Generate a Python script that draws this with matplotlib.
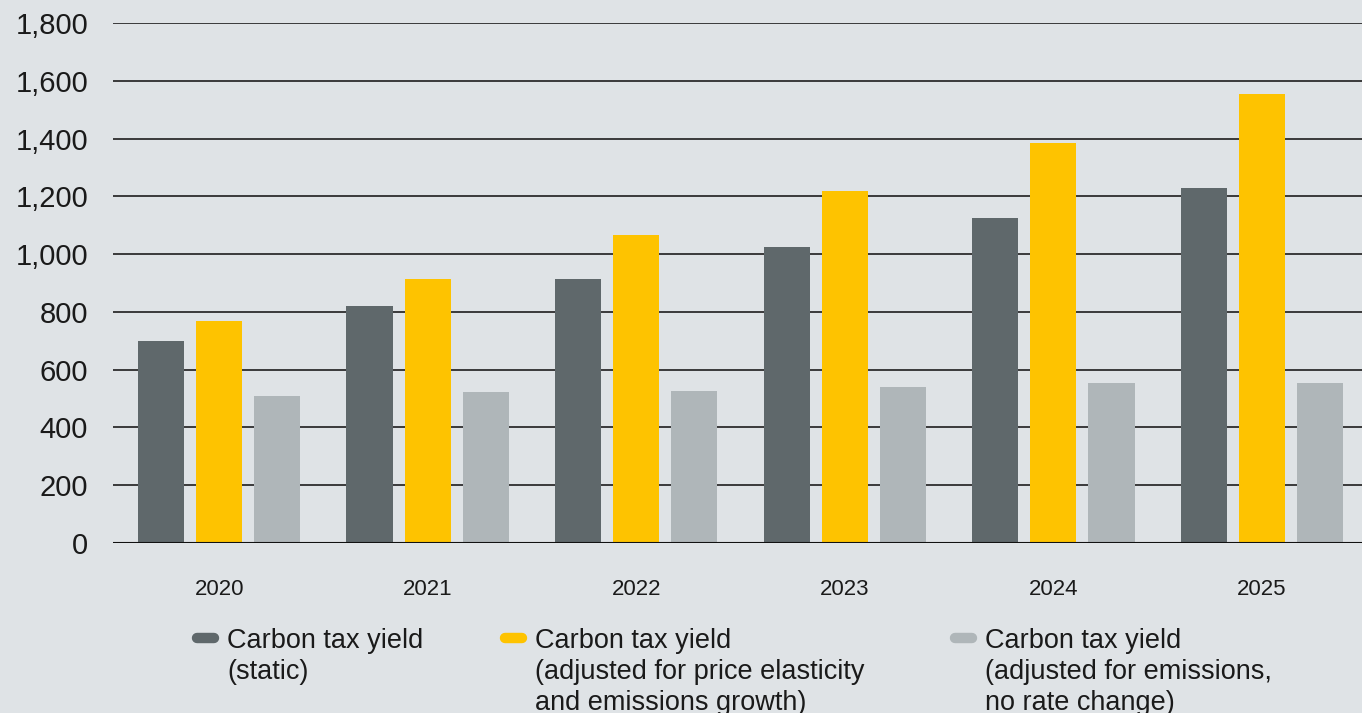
import matplotlib
matplotlib.use("Agg")
import matplotlib.pyplot as plt
import numpy as np
from matplotlib.lines import Line2D

years = ["2020", "2021", "2022", "2023", "2024", "2025"]
static_yield = [700, 820, 915, 1025, 1125, 1230]
elastic_yield = [770, 915, 1065, 1220, 1385, 1555]
emissions_yield = [510, 522, 527, 540, 555, 555]

series_labels = [
    "Carbon tax yield\n(static)",
    "Carbon tax yield\n(adjusted for price elasticity\nand emissions growth)",
    "Carbon tax yield\n(adjusted for emissions,\nno rate change)",
]
series_colors = ["#5f686b", "#fec300", "#afb6b9"]
y_ticks = [0, 200, 400, 600, 800, 1000, 1200, 1400, 1600, 1800]

bg = "#dfe3e6"
text_color = "#1a1a1a"
plt.rcParams["font.family"] = ["Liberation Sans", "DejaVu Sans"]

W, H = 1362, 713
fig = plt.figure(figsize=(W / 100, H / 100), dpi=100, facecolor=bg)
ax = fig.add_axes([113 / W, 1 - 543 / H, 1 - 113 / W, (543 - 23) / H])
ax.set_facecolor(bg)

x = np.arange(len(years))
slot = 0.279
bar_w = 0.221
for i, (vals, col) in enumerate(zip([static_yield, elastic_yield, emissions_yield], series_colors)):
    ax.bar(x + (i - 1) * slot, vals, width=bar_w, color=col, zorder=3, linewidth=0)

ax.set_ylim(0, 1800)
ax.set_xlim(-0.509, 5.48)
ax.set_yticks(y_ticks)
ax.set_yticklabels([f"{v:,}" for v in y_ticks], fontsize=21, color=text_color)
ax.set_xticks(x)
ax.set_xticklabels(years, fontsize=16, color=text_color)
ax.tick_params(axis="y", length=0, pad=18)
ax.tick_params(axis="x", length=0, pad=26)
ax.grid(axis="y", color="#1e1e1e", linewidth=1.2, zorder=1)
ax.set_axisbelow(True)
for s in ax.spines.values():
    s.set_visible(False)
ax.axhline(0, color="#111111", linewidth=1.5, zorder=4)

# Legend drawn in figure pixel coordinates
handle_x = [192, 500, 950]
text_x = [227, 535, 985]
baselines = [648, 679, 710]
for hx, tx, lab, col in zip(handle_x, text_x, series_labels, series_colors):
    fig.add_artist(Line2D([(hx + 5) / W, (hx + 22) / W], [1 - 638 / H, 1 - 638 / H],
                          color=col, linewidth=7.5, solid_capstyle="round",
                          transform=fig.transFigure))
    for j, line in enumerate(lab.split("\n")):
        fig.text(tx / W, 1 - baselines[j] / H, line, fontsize=19.5, color=text_color,
                 ha="left", va="baseline")

fig.savefig("out.png", dpi=100, facecolor=bg)
